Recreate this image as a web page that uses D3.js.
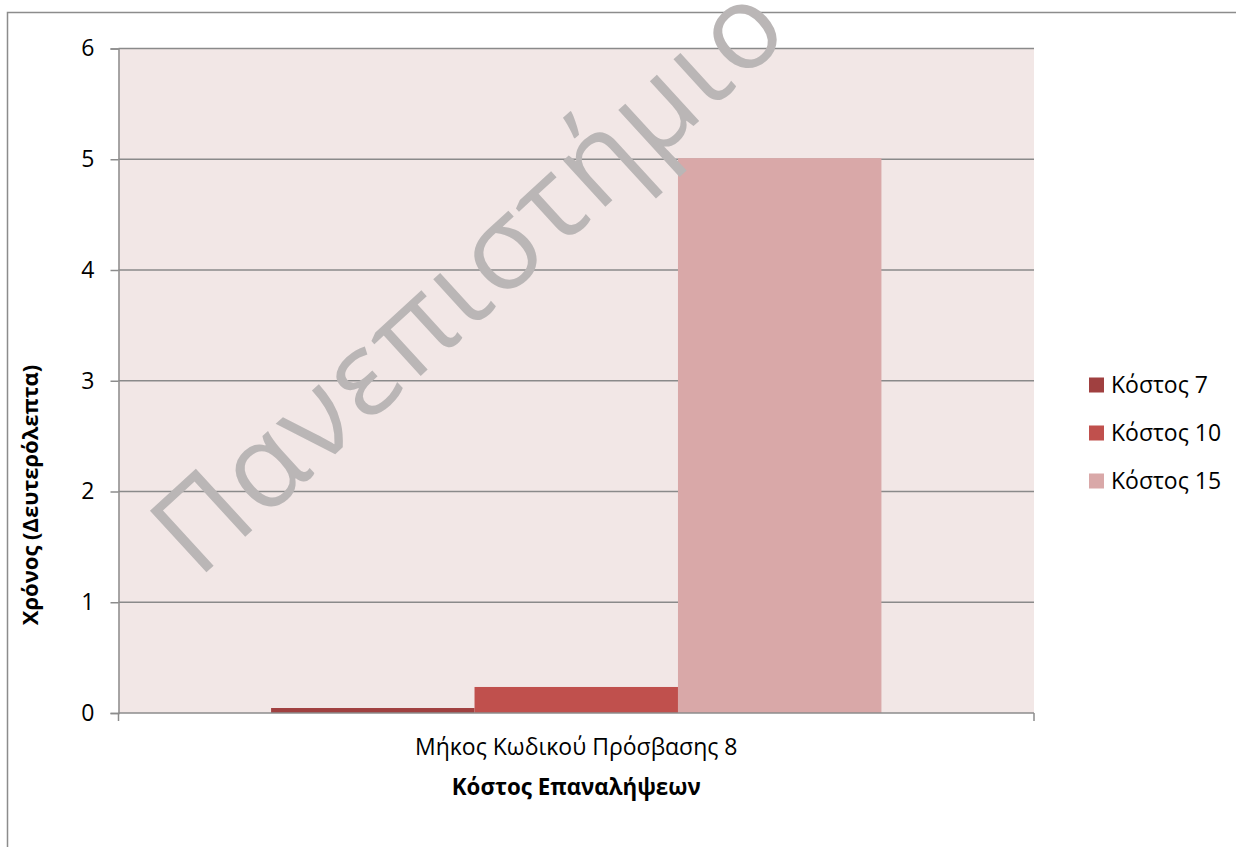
<!DOCTYPE html>
<html>
<head>
<meta charset="utf-8">
<script src="https://cdn.jsdelivr.net/npm/d3@7"></script>
<style>
  body { margin: 0; background: #fff; }
  svg text { font-family: "Open Sans", "Noto Sans", sans-serif; fill: #000; }
</style>
</head>
<body>
<div id="chart"></div>
<script>
// chart values
var categories  = ["Μήκος Κωδικού Πρόσβασης 8"];
var seriesNames = ["Κόστος 7", "Κόστος 10", "Κόστος 15"];
var seriesVals  = [0.045, 0.235, 5.01];
var seriesCols  = ["#a04040", "#c0504d", "#d9a8a8"];
var yTicks      = [0, 1, 2, 3, 4, 5, 6];

var W = 1236, H = 847;
var margin = {top: 48.5, left: 118.5, right: 202, bottom: 134};
var width  = W - margin.left - margin.right,
    height = H - margin.top - margin.bottom;

var svg = d3.select("#chart").append("svg")
    .attr("width", W).attr("height", H);

// outer chart border
svg.append("rect")
    .attr("x", 7.5).attr("y", 12.5)
    .attr("width", W).attr("height", H)
    .attr("fill", "none").attr("stroke", "#8c8c8c").attr("stroke-width", 1.5);

var g = svg.append("g")
    .attr("transform", "translate(" + margin.left + "," + margin.top + ")");

var x0 = d3.scaleBand().domain(categories).range([0, width])
    .paddingInner(0).paddingOuter(0.25);
var x1 = d3.scaleBand().domain(seriesNames).range([0, x0.bandwidth()]);
var y  = d3.scaleLinear().domain([0, 6]).range([height, 0]);

// plot background
g.append("rect")
    .attr("width", width).attr("height", height)
    .attr("fill", "#f2e7e6");

// gridlines
g.append("g").selectAll("line")
  .data(yTicks.filter(function (d) { return d > 0; }))
  .enter().append("line")
    .attr("x1", 0).attr("x2", width)
    .attr("y1", function (d) { return y(d); })
    .attr("y2", function (d) { return y(d); })
    .attr("stroke", "#8a8a8a").attr("stroke-width", 1.5);

// bars
g.append("g").selectAll("rect")
  .data(seriesNames)
  .enter().append("rect")
    .attr("x", function (d) { return x0(categories[0]) + x1(d); })
    .attr("width", x1.bandwidth())
    .attr("y", function (d, i) { return y(seriesVals[i]); })
    .attr("height", function (d, i) { return height - y(seriesVals[i]); })
    .attr("fill", function (d, i) { return seriesCols[i]; });

// y axis
var yAxis = d3.axisLeft(y).tickValues(yTicks).tickFormat(d3.format("d"))
    .tickSize(8).tickPadding(16);
var yAxisEl = g.append("g").call(yAxis);
yAxisEl.select(".domain").attr("stroke", "#8c8c8c").attr("stroke-width", 1.5);
yAxisEl.selectAll(".tick line").attr("stroke", "#8c8c8c").attr("stroke-width", 1.5);
yAxisEl.selectAll(".tick text").attr("font-size", 23).attr("fill", "#000")
    .style("font-family", "'Open Sans', sans-serif");

// x axis
var xAxisEl = g.append("g").attr("transform", "translate(0," + height + ")");
xAxisEl.append("line")
    .attr("x1", 0).attr("x2", width)
    .attr("stroke", "#8c8c8c").attr("stroke-width", 1.5);
xAxisEl.selectAll(".edge").data([0, width]).enter().append("line")
    .attr("class", "edge")
    .attr("x1", function (d) { return d; }).attr("x2", function (d) { return d; })
    .attr("y1", 0).attr("y2", 8)
    .attr("stroke", "#8c8c8c").attr("stroke-width", 1.5);
xAxisEl.selectAll("text.cat").data(categories).enter().append("text")
    .attr("class", "cat")
    .attr("x", function (d) { return x0(d) + x0.bandwidth() / 2; })
    .attr("y", 42)
    .attr("text-anchor", "middle")
    .attr("font-size", 23)
    .text(function (d) { return d; });

// axis titles
svg.append("text")
    .attr("x", margin.left + width / 2).attr("y", 795)
    .attr("text-anchor", "middle")
    .attr("font-size", 22.3).attr("font-weight", "bold")
    .text("Κόστος Επαναλήψεων");

svg.append("text")
    .attr("transform", "translate(38,495) rotate(-90)")
    .attr("text-anchor", "middle")
    .attr("font-size", 22).attr("font-weight", "bold")
    .text("Χρόνος (Δευτερόλεπτα)");

// legend
var legend = svg.append("g").attr("transform", "translate(1089,377.5)");
var items = legend.selectAll("g").data(seriesNames).enter().append("g")
    .attr("transform", function (d, i) { return "translate(0," + (i * 48) + ")"; });
items.append("rect").attr("width", 15).attr("height", 15)
    .attr("fill", function (d, i) { return seriesCols[i]; });
items.append("text").attr("x", 22).attr("y", 15)
    .attr("font-size", 23)
    .text(function (d) { return d; });

// watermark
svg.append("text")
    .attr("transform", "translate(198,580) rotate(-42.5)")
    .attr("font-size", 117)
    .attr("letter-spacing", 3)
    .style("fill", "#bab6b6")
    .text("Πανεπιστήμιο");
</script>
</body>
</html>
